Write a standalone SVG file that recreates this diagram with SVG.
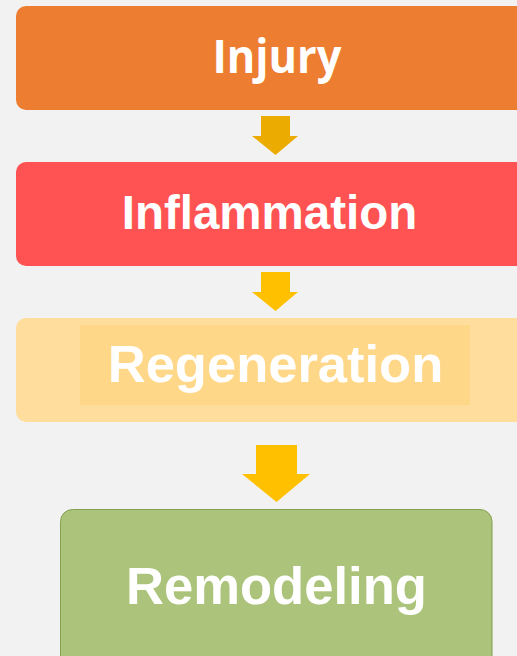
<svg xmlns="http://www.w3.org/2000/svg" width="517" height="656" viewBox="0 0 517 656">
<style>
.lbl{font-family:"Liberation Sans",Arial,sans-serif;font-weight:bold;fill:#fff;text-anchor:middle}
</style>
<rect width="517" height="656" fill="#F2F2F2"/>
<g id="injury">
<rect x="16" y="6" width="520" height="104" rx="10" fill="#ED7D31"/>
<text x="277" y="73" style="font-family:'Open Sans','Noto Sans',sans-serif;font-weight:bold;fill:#fff;text-anchor:middle" font-size="46" textLength="129" lengthAdjust="spacingAndGlyphs">Injury</text>
</g>
<g id="inflammation">
<rect x="16" y="162" width="520" height="104" rx="10" fill="#FF5252"/>
<text class="lbl" x="269.5" y="229" font-size="47.5">Inflammation</text>
</g>
<g id="regeneration">
<rect x="16" y="318" width="520" height="104" rx="10" fill="#FFDE9D"/>
<rect x="80" y="325" width="390" height="80" fill="#FFD789"/>
<text class="lbl" x="275.5" y="382" font-size="52.5">Regeneration</text>
</g>
<g id="remodeling">
<rect x="60.5" y="509.5" width="431.5" height="160" rx="12" fill="#ABC37A" stroke="#84A050" stroke-width="1"/>
<text class="lbl" x="276.5" y="604" font-size="52.6">Remodeling</text>
</g>
<g id="connectors">
<polygon points="261,116 290,116 290,136 298,136 275.5,155 252,136 261,136" fill="#EBAB00"/>
<polygon points="261,272 290,272 290,292 298,292 275.5,311 252,292 261,292" fill="#FFC000"/>
<polygon points="256,445 297,445 297,474 310,474 276.5,502 242,474 256,474" fill="#FFC000"/>
</g>
</svg>
